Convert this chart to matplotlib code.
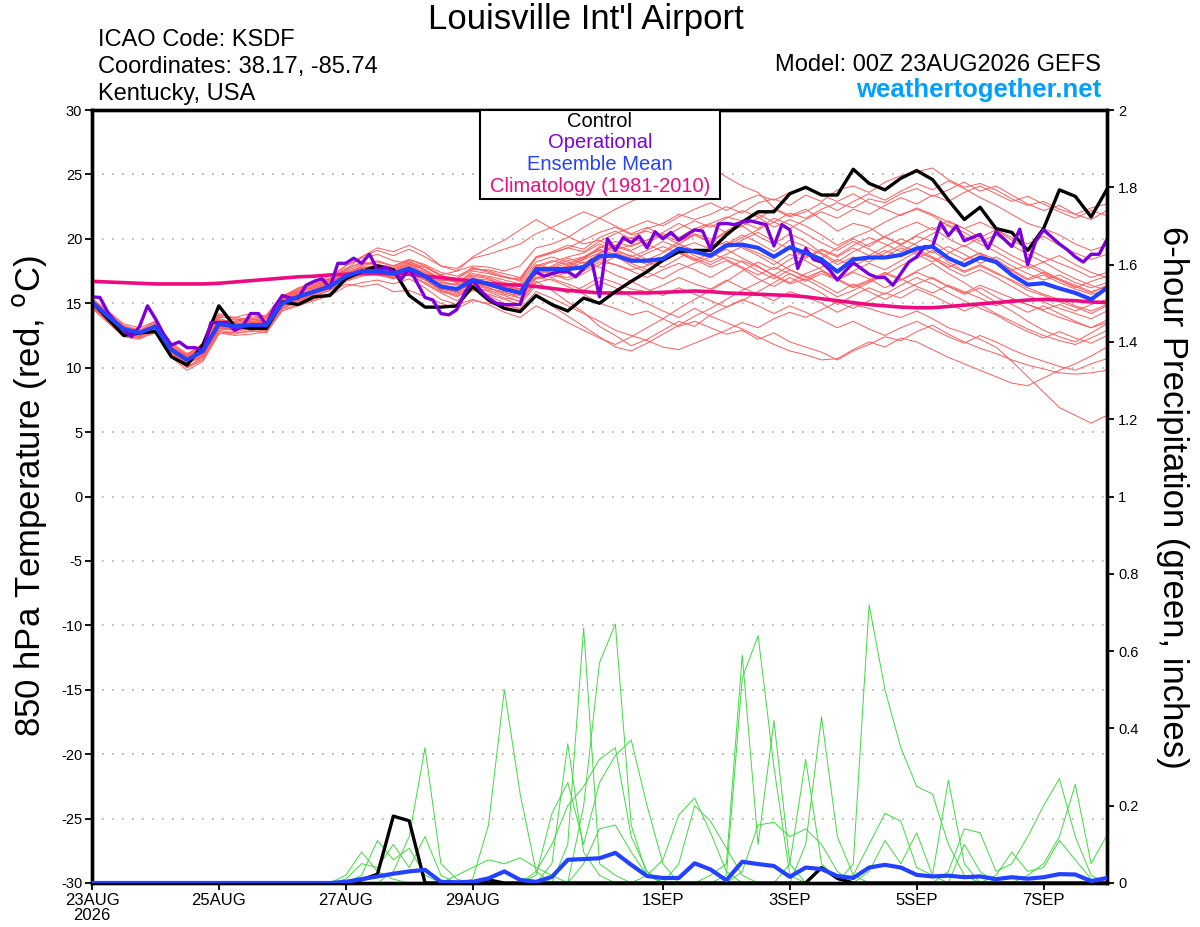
import numpy as np
import matplotlib
matplotlib.use('Agg')
import matplotlib.pyplot as plt
from matplotlib.patches import Rectangle

plt.rcParams['font.family'] = ['Liberation Sans', 'DejaVu Sans']

# ---------------- data ----------------
tick_hours = [0, 48, 96, 144, 216, 264, 312, 360]
tick_labels = ['23AUG\n2026', '25AUG', '27AUG', '29AUG', '1SEP', '3SEP', '5SEP', '7SEP']

# 6-hourly control 850 hPa temperature (C), h = 0..384
control_temp = [15.1, 13.8, 12.5, 12.7, 12.8, 10.85, 10.2, 11.8, 14.8, 13.2, 13.05, 13.05, 15.1,
                14.9, 15.5, 15.6, 16.9, 17.45, 17.9, 17.6, 15.6, 14.7, 14.7, 14.8, 16.3, 15.25,
                14.6, 14.35, 15.6, 14.9, 14.4, 15.4, 15.0, 15.9, 16.7, 17.45, 18.35, 19.0, 19.1,
                19.1, 20.3, 21.3, 22.1, 22.1, 23.5, 24.0, 23.4, 23.4, 25.4, 24.3, 23.8, 24.7,
                25.3, 24.6, 23.0, 21.5, 22.45, 20.8, 20.5, 19.1, 20.8, 23.8, 23.3, 21.7, 23.85]

ens_mean_temp = [15.1, 14.0, 13.0, 12.7, 13.2, 11.4, 10.6, 11.3, 13.4, 13.2, 13.3, 13.3, 15.0,
                 15.5, 15.9, 16.3, 17.1, 17.5, 17.5, 17.3, 17.7, 17.1, 16.3, 16.1, 16.8, 16.5,
                 16.1, 15.8, 17.65, 17.65, 17.65, 17.8, 18.65, 18.7, 18.3, 18.3, 18.45, 19.25, 19.0,
                 18.7, 19.5, 19.55, 19.3, 18.6, 19.35, 18.9, 18.4, 17.45, 18.4, 18.55, 18.55, 18.75,
                 19.25, 19.4, 18.5, 17.95, 18.55, 18.2, 17.2, 16.45, 16.55, 16.15, 15.8, 15.3, 16.2]

climo_temp = [16.7, 16.65, 16.6, 16.55, 16.5, 16.5, 16.5, 16.5, 16.55, 16.65, 16.75, 16.85, 16.95,
              17.05, 17.1, 17.2, 17.25, 17.3, 17.3, 17.3, 17.25, 17.1, 17.0, 16.85, 16.7, 16.55,
              16.45, 16.4, 16.3, 16.15, 16.0, 15.9, 15.8, 15.8, 15.8, 15.8, 15.85, 15.9, 15.95,
              15.9, 15.8, 15.75, 15.7, 15.65, 15.6, 15.5, 15.35, 15.2, 15.05, 14.9, 14.8, 14.7,
              14.65, 14.65, 14.75, 14.85, 14.95, 15.05, 15.15, 15.25, 15.3, 15.25, 15.2, 15.1, 15.05]

# 3-hourly operational, h = 0..384
oper_temp = [15.5, 15.45, 14.3, 13.5, 12.9, 12.4, 13.2, 14.8,
             13.8, 12.65, 11.75, 12.0, 11.55, 11.55, 11.3, 13.5,
             13.5, 13.5, 12.9, 13.2, 14.2, 14.2, 13.3, 14.7,
             15.6, 15.4, 15.4, 16.4, 16.7, 16.9, 16.2, 18.1,
             18.1, 18.5, 18.1, 18.8, 17.6, 17.8, 17.45, 16.85,
             17.7, 16.6, 15.45, 15.25, 14.2, 14.1, 14.5, 15.8,
             16.8, 16.0, 15.4, 15.0, 14.9, 14.9, 14.9, 16.8,
             17.45, 17.1, 17.3, 17.45, 17.45, 17.05, 17.7, 18.35,
             15.5, 20.0, 19.1, 20.1, 19.7, 20.2, 19.3, 20.55,
             20.0, 20.5, 19.9, 20.3, 20.7, 20.6, 19.2, 21.15,
             21.2, 21.1, 21.3, 21.4, 21.25, 21.1, 19.45, 21.1,
             20.7, 17.7, 19.25, 18.4, 18.2, 17.6, 16.8, 17.5,
             18.15, 17.7, 17.25, 17.0, 17.0, 16.4, 17.3, 18.2,
             18.6, 19.4, 19.4, 21.25, 20.25, 21.0, 19.85, 20.1,
             20.35, 19.25, 20.55, 20.0, 19.4, 20.75, 18.0, 19.8,
             20.7, 20.15, 19.6, 19.15, 18.6, 18.2, 18.8, 18.8,
             19.95]

# ensemble member temperatures (6-hourly)
m01 = [14.8, 13.6, 12.5, 12.3, 13.0, 11.0, 10.2, 11.6, 13.8, 13.5, 13.1, 13.6, 15.4,
       16.0, 16.4, 16.9, 17.6, 18.2, 18.0, 17.8, 18.3, 17.5, 16.8, 16.9, 17.8, 17.4,
       17.0, 16.9, 18.6, 19.0, 19.5, 19.2, 20.1, 20.6, 20.0, 20.8, 21.2, 21.9, 21.5,
       21.9, 22.5, 22.0, 22.8, 23.1, 22.6, 23.4, 22.9, 23.8, 24.1, 23.6, 24.4, 24.9,
       25.2, 25.5, 24.6, 24.0, 24.3, 23.8, 23.1, 22.6, 22.9, 22.3, 21.9, 21.5, 22.2]
m02 = [15.0, 13.9, 12.8, 12.4, 13.3, 11.2, 10.0, 10.9, 13.1, 12.9, 13.2, 13.0, 14.8,
       15.2, 15.6, 16.0, 16.8, 17.2, 17.4, 16.9, 17.2, 16.5, 15.8, 15.2, 16.0, 15.7,
       15.3, 14.9, 16.4, 16.2, 15.8, 16.3, 17.0, 16.6, 16.1, 15.9, 16.4, 17.0, 16.5,
       16.1, 16.8, 16.2, 15.7, 15.2, 15.9, 15.5, 15.0, 14.3, 14.9, 14.6, 14.2, 13.9,
       14.4, 13.8, 13.1, 12.7, 12.2, 11.6, 10.5, 9.3, 8.1, 6.9, 6.3, 5.7, 6.3]
m03 = [15.3, 14.2, 13.2, 12.9, 13.0, 11.6, 10.8, 11.1, 13.0, 13.6, 13.8, 13.5, 15.2,
       15.7, 16.1, 16.6, 17.3, 17.9, 18.2, 17.9, 18.4, 17.9, 17.2, 16.6, 17.1, 16.9,
       16.4, 15.9, 17.0, 16.8, 16.3, 15.7, 15.0, 14.6, 14.1, 14.4, 13.8, 13.2, 13.6,
       13.1, 12.6, 12.9, 12.2, 12.7, 12.0, 11.6, 11.2, 10.6, 11.3, 11.8, 12.4, 12.1,
       12.8, 13.3, 12.6, 12.0, 11.5, 11.1, 10.6, 10.2, 9.9, 9.6, 9.5, 9.6, 9.8]
m04 = [14.9, 13.8, 12.9, 12.9, 13.5, 11.8, 11.0, 11.8, 14.0, 13.7, 13.9, 14.1, 15.6,
       15.9, 16.2, 16.8, 17.6, 18.6, 19.3, 19.0, 19.5, 18.9, 17.9, 17.5, 17.9, 17.8,
       17.5, 17.9, 19.3, 19.6, 20.1, 20.9, 21.6, 22.3, 22.9, 23.4, 23.9, 24.6, 25.1,
       25.6, 24.8, 24.1, 23.6, 22.4, 21.8, 22.3, 21.5, 20.6, 21.2, 20.9, 20.1, 19.6,
       20.2, 19.8, 19.0, 18.4, 18.9, 18.1, 17.5, 16.8, 17.2, 16.6, 16.1, 15.7, 16.0]
m05 = [15.2, 14.1, 13.1, 12.6, 12.8, 11.1, 10.5, 10.8, 12.8, 12.6, 12.9, 12.7, 14.5,
       14.9, 15.3, 15.8, 16.5, 16.3, 16.5, 15.9, 16.0, 15.5, 15.0, 14.6, 15.2, 15.0,
       14.8, 14.6, 15.9, 15.4, 14.8, 14.2, 13.6, 12.9, 12.5, 12.1, 11.6, 11.4, 11.9,
       12.4, 12.9, 13.5, 13.1, 13.8, 14.3, 13.9, 14.5, 15.1, 14.6, 15.2, 15.8, 15.4,
       16.1, 15.6, 15.0, 14.4, 14.9, 14.2, 13.6, 13.0, 12.5, 12.1, 11.8, 12.3, 12.9]
m06 = [14.7, 13.7, 12.6, 12.5, 13.4, 11.5, 10.7, 11.5, 13.6, 13.4, 13.5, 13.6, 15.3,
       15.8, 16.3, 16.7, 17.4, 17.8, 17.9, 17.6, 18.0, 17.6, 16.9, 16.6, 17.2, 17.0,
       16.6, 16.3, 17.8, 18.2, 18.6, 18.9, 19.6, 19.2, 19.5, 19.9, 20.4, 20.1, 20.8,
       21.2, 21.7, 21.4, 21.9, 21.3, 22.0, 21.6, 22.3, 22.8, 22.4, 23.1, 22.8, 23.5,
       23.9, 23.3, 23.8, 24.4, 23.7, 24.1, 23.4, 22.7, 22.2, 22.6, 21.9, 22.4, 22.7]
m07 = [15.0, 14.0, 13.0, 12.8, 13.1, 11.3, 10.4, 11.2, 13.3, 13.1, 13.4, 13.4, 15.1,
       15.6, 16.0, 16.4, 17.0, 17.6, 17.6, 17.2, 17.5, 16.9, 16.1, 15.9, 16.6, 16.2,
       15.8, 15.6, 17.3, 17.0, 17.4, 18.0, 18.9, 19.5, 20.1, 19.6, 19.0, 19.8, 20.3,
       19.7, 20.5, 21.0, 20.2, 19.6, 20.4, 19.8, 18.9, 18.2, 19.0, 19.6, 20.2, 19.5,
       20.3, 20.9, 20.0, 19.4, 20.1, 20.7, 19.9, 19.2, 18.6, 18.1, 17.6, 17.0, 17.4]
m08 = [15.4, 14.4, 13.4, 13.1, 13.6, 11.9, 11.1, 11.7, 13.9, 13.9, 14.2, 13.9, 15.5,
       16.1, 16.7, 16.9, 17.9, 18.5, 18.8, 18.3, 18.1, 17.2, 16.2, 15.8, 16.3, 15.9,
       15.4, 15.2, 16.7, 16.0, 15.1, 14.3, 13.2, 12.5, 11.7, 12.2, 12.9, 13.6, 13.2,
       14.1, 14.7, 15.2, 15.9, 16.6, 17.3, 16.8, 17.5, 16.8, 17.4, 16.9, 16.2, 16.8,
       17.5, 18.1, 17.3, 16.6, 15.8, 15.1, 14.4, 13.6, 12.9, 12.4, 12.0, 12.7, 13.4]
m09 = [14.6, 13.5, 12.4, 12.2, 12.9, 10.8, 9.8, 10.5, 12.6, 12.8, 13.0, 13.2, 14.7,
       15.3, 15.8, 16.2, 17.0, 17.3, 17.2, 17.1, 17.6, 17.0, 16.5, 16.5, 17.5, 17.3,
       17.0, 16.8, 18.5, 18.9, 19.3, 19.9, 20.5, 20.9, 20.3, 20.6, 20.1, 20.8, 21.4,
       20.9, 21.6, 22.2, 21.7, 20.9, 21.5, 21.0, 20.3, 19.5, 20.1, 20.6, 21.3, 21.9,
       22.3, 21.8, 21.0, 20.2, 19.6, 19.0, 18.3, 17.7, 18.2, 17.5, 16.9, 16.4, 16.0]
m10 = [15.1, 14.1, 13.2, 12.6, 13.0, 11.4, 10.6, 11.0, 13.2, 13.0, 13.1, 13.0, 14.6,
       15.1, 15.5, 16.0, 16.7, 17.1, 17.3, 17.0, 17.2, 16.6, 15.9, 15.6, 16.2, 16.0,
       15.6, 15.1, 16.6, 16.9, 16.5, 16.0, 16.7, 16.2, 15.5, 15.0, 14.4, 13.9, 14.6,
       14.0, 13.5, 13.0, 12.4, 11.8, 11.3, 11.0, 10.6, 10.7, 11.4, 12.0, 11.6, 12.3,
       12.0, 11.4, 10.8, 10.3, 9.8, 9.3, 8.8, 8.6, 9.2, 9.8, 10.3, 10.9, 11.6]
m11 = [14.9, 13.8, 12.9, 12.8, 13.3, 11.4, 10.6, 11.3, 13.5, 13.2, 13.2, 13.3, 15.0,
       15.4, 15.9, 16.5, 17.2, 17.5, 17.4, 17.5, 17.9, 17.4, 16.7, 16.4, 17.0, 16.6,
       16.0, 15.7, 17.5, 17.8, 18.3, 18.6, 19.1, 18.7, 17.9, 17.4, 16.9, 17.6, 18.1,
       18.6, 19.2, 18.5, 17.9, 17.1, 16.5, 16.9, 16.2, 15.5, 16.0, 16.6, 17.2, 17.9,
       18.5, 19.1, 18.2, 17.5, 18.0, 17.4, 16.7, 16.0, 15.6, 15.1, 14.7, 14.2, 14.8]
m12 = [15.3, 14.2, 13.0, 12.7, 13.4, 11.7, 11.0, 11.9, 14.2, 13.8, 13.6, 13.7, 15.4,
       15.9, 16.4, 16.8, 17.3, 17.7, 17.9, 17.6, 18.0, 17.8, 17.2, 17.5, 18.6, 19.3,
       19.9, 20.7, 21.5, 20.8, 20.2, 19.6, 19.9, 19.2, 18.6, 19.1, 19.8, 19.3, 18.7,
       18.2, 18.8, 19.4, 18.9, 18.3, 17.6, 17.0, 17.5, 16.9, 16.3, 16.8, 17.4, 16.9,
       16.3, 15.8, 16.4, 15.9, 15.4, 14.8, 15.3, 14.9, 14.4, 13.9, 13.5, 13.1, 13.7]
m13 = [15.0, 13.9, 12.7, 12.5, 13.2, 11.2, 10.3, 11.0, 13.1, 13.0, 13.3, 13.2, 14.9,
       15.5, 15.8, 16.1, 16.9, 17.4, 17.6, 17.4, 17.6, 17.1, 16.4, 16.0, 16.5, 16.4,
       16.2, 16.0, 17.4, 17.9, 18.5, 18.1, 18.8, 19.4, 19.0, 18.4, 18.9, 19.6, 19.1,
       18.5, 19.3, 19.9, 20.5, 19.8, 19.2, 18.6, 19.2, 18.7, 19.5, 20.1, 19.6, 19.0,
       19.7, 20.4, 21.1, 20.5, 19.8, 20.3, 19.5, 18.8, 18.2, 18.7, 18.0, 17.4, 17.0]
m14 = [14.8, 13.7, 12.7, 12.9, 13.6, 11.6, 10.9, 11.6, 13.7, 13.3, 13.4, 13.5, 15.2,
       15.7, 16.1, 16.5, 17.2, 17.6, 17.7, 17.5, 17.8, 17.3, 16.6, 16.4, 16.9, 16.8,
       16.5, 16.1, 17.9, 18.3, 18.0, 18.6, 19.3, 19.8, 19.4, 19.9, 20.5, 21.2, 20.6,
       21.1, 20.5, 21.0, 21.6, 22.3, 21.7, 22.1, 22.8, 22.2, 22.9, 23.5, 23.0, 23.7,
       24.3, 23.8, 24.5, 23.9, 23.2, 22.6, 21.9, 21.2, 20.8, 20.3, 19.6, 19.1, 19.5]
m15 = [15.2, 14.0, 12.9, 12.5, 12.9, 11.0, 10.1, 10.7, 12.9, 12.7, 12.8, 12.9, 14.6,
       15.2, 15.7, 16.1, 16.9, 17.3, 17.2, 16.9, 17.3, 16.8, 16.0, 15.7, 16.4, 16.1,
       15.9, 15.4, 16.9, 17.2, 17.0, 17.5, 18.2, 18.0, 17.6, 17.9, 18.4, 19.0, 18.5,
       18.0, 18.6, 18.2, 17.5, 16.9, 17.6, 17.1, 16.5, 15.8, 16.5, 15.9, 15.3, 15.9,
       16.5, 17.0, 16.3, 15.7, 16.2, 15.5, 14.9, 14.3, 14.8, 14.2, 13.6, 13.1, 13.5]
m16 = [15.1, 14.1, 13.1, 12.8, 13.2, 11.5, 10.7, 11.4, 13.5, 13.3, 13.3, 13.2, 14.9,
       15.3, 15.8, 16.2, 17.0, 17.4, 17.3, 17.1, 17.5, 16.9, 16.0, 15.5, 16.1, 15.6,
       15.0, 14.5, 15.6, 14.8, 14.0, 13.2, 12.4, 11.6, 11.3, 11.9, 12.6, 13.3, 14.0,
       14.6, 15.3, 16.0, 16.6, 17.2, 16.6, 17.3, 17.8, 18.4, 17.9, 18.5, 19.1, 18.6,
       19.2, 18.6, 18.0, 17.4, 17.9, 17.3, 16.8, 16.2, 15.7, 15.3, 14.8, 14.4, 14.9]
m17 = [14.7, 13.6, 12.6, 12.4, 13.1, 11.3, 10.6, 11.5, 13.7, 13.6, 13.8, 14.0, 15.6,
       16.1, 16.5, 16.9, 17.7, 18.1, 18.0, 17.7, 18.2, 17.8, 17.1, 16.9, 17.6, 17.6,
       17.3, 17.0, 18.6, 18.9, 19.3, 19.0, 19.8, 20.4, 20.9, 21.4, 21.0, 21.7, 22.3,
       22.8, 22.2, 22.9, 23.4, 23.0, 23.6, 24.0, 23.4, 22.9, 23.5, 22.8, 22.3, 21.8,
       22.4, 21.9, 21.3, 20.8, 21.3, 20.7, 20.1, 19.6, 20.2, 19.5, 18.9, 18.4, 18.8]
m18 = [15.3, 14.3, 13.3, 12.9, 13.3, 11.6, 10.9, 11.5, 13.4, 13.4, 13.6, 13.4, 15.1,
       15.6, 16.0, 16.4, 17.2, 17.8, 17.6, 17.3, 17.7, 17.2, 16.4, 16.2, 16.9, 16.6,
       16.3, 16.1, 17.6, 17.3, 16.8, 17.3, 18.0, 18.6, 18.1, 17.6, 18.2, 18.9, 18.4,
       17.8, 18.3, 17.7, 16.9, 16.3, 17.0, 16.4, 15.8, 14.9, 15.6, 16.2, 15.7, 16.4,
       17.0, 16.5, 15.8, 15.2, 14.6, 14.1, 13.4, 12.8, 12.3, 12.8, 12.3, 11.9, 12.5]
m19 = [14.9, 13.9, 12.8, 12.6, 13.0, 11.2, 10.4, 11.1, 13.2, 13.1, 13.4, 13.5, 15.2,
       15.6, 16.0, 16.3, 17.1, 17.5, 17.5, 17.2, 17.5, 17.0, 16.2, 16.1, 16.7, 16.3,
       16.1, 15.8, 17.7, 17.5, 17.8, 18.4, 19.4, 19.0, 18.7, 18.2, 17.8, 18.5, 19.2,
       18.8, 19.6, 20.3, 19.7, 19.0, 19.9, 19.4, 18.8, 18.0, 18.6, 18.2, 18.9, 19.5,
       19.0, 18.5, 17.8, 18.3, 18.9, 18.4, 17.6, 16.9, 17.4, 16.8, 16.3, 15.8, 16.4]
m20 = [15.0, 14.0, 13.1, 12.7, 13.2, 11.4, 10.5, 11.2, 13.3, 13.1, 13.2, 13.4, 15.0,
       15.5, 15.9, 16.3, 17.0, 17.4, 17.5, 17.4, 17.8, 17.2, 16.4, 16.0, 16.8, 16.5,
       16.2, 15.9, 17.7, 17.4, 17.9, 17.6, 18.4, 18.9, 18.5, 18.0, 18.6, 19.3, 19.7,
       19.2, 19.8, 19.3, 18.7, 18.0, 18.8, 18.3, 17.6, 16.9, 17.5, 18.1, 17.6, 18.3,
       19.0, 18.5, 17.7, 17.1, 17.6, 17.0, 16.3, 15.6, 15.1, 14.6, 14.2, 13.8, 14.4]
m21 = [15.2, 14.0, 12.9, 12.6, 13.4, 11.5, 10.9, 11.8, 14.1, 13.9, 13.7, 13.9, 15.5,
       16.2, 16.6, 17.1, 17.9, 18.6, 19.1, 18.7, 19.2, 18.6, 17.9, 17.7, 18.5, 18.8,
       19.2, 19.6, 20.4, 20.9, 21.5, 22.1, 21.6, 21.0, 20.4, 20.9, 20.2, 19.6, 20.3,
       19.8, 20.6, 21.3, 20.8, 21.6, 21.1, 20.4, 19.7, 19.1, 19.8, 19.2, 18.6, 19.3,
       18.8, 18.2, 18.9, 19.5, 18.8, 18.2, 17.6, 17.9, 17.3, 16.8, 16.2, 16.7, 17.1]
m22 = [14.8, 13.7, 12.6, 12.3, 12.7, 10.9, 10.0, 10.6, 12.7, 12.5, 12.6, 12.8, 14.4,
       14.8, 15.2, 15.6, 16.3, 16.6, 16.8, 16.5, 16.9, 16.2, 15.3, 14.9, 15.3, 14.9,
       14.3, 13.9, 14.8, 14.2, 13.5, 12.9, 12.3, 11.8, 12.4, 13.1, 13.8, 14.6, 15.3,
       16.0, 16.7, 17.5, 18.2, 17.6, 18.4, 19.1, 18.5, 19.3, 20.0, 19.4, 20.2, 20.8,
       21.3, 20.7, 21.4, 20.8, 20.1, 19.4, 18.7, 18.1, 17.5, 16.9, 16.4, 15.9, 16.3]
m23 = [15.1, 13.9, 12.8, 12.6, 13.3, 11.6, 10.8, 11.4, 13.6, 13.5, 13.7, 13.8, 15.3,
       15.9, 16.2, 16.6, 17.5, 18.0, 18.3, 17.9, 18.4, 18.0, 17.4, 17.1, 17.7, 17.5,
       17.1, 16.7, 18.2, 18.6, 18.2, 17.7, 18.4, 18.0, 17.5, 17.0, 17.6, 18.1, 17.6,
       17.0, 17.7, 18.3, 17.8, 17.2, 17.9, 18.5, 19.1, 18.6, 19.3, 18.7, 19.4, 20.0,
       19.5, 18.9, 19.4, 18.8, 18.1, 18.6, 17.9, 17.3, 16.8, 17.2, 16.6, 16.2, 16.6]
m24 = [15.0, 13.8, 12.7, 12.7, 13.1, 11.3, 10.5, 11.3, 13.4, 13.2, 13.3, 13.1, 14.8,
       15.3, 15.7, 16.2, 17.0, 17.3, 17.4, 17.2, 17.6, 16.9, 16.1, 15.9, 16.5, 16.2,
       15.7, 15.4, 17.0, 17.3, 17.7, 18.2, 17.8, 17.2, 16.7, 16.1, 15.6, 16.2, 15.7,
       15.2, 14.7, 15.3, 14.8, 14.2, 14.8, 14.3, 13.7, 13.1, 13.6, 13.0, 12.5, 13.1,
       13.6, 13.0, 12.4, 11.9, 12.5, 12.0, 11.4, 10.9, 10.5, 10.1, 9.8, 10.3, 10.7]
m25 = [14.9, 13.8, 12.8, 12.5, 13.0, 11.2, 10.3, 10.9, 13.0, 12.9, 13.1, 13.3, 14.9,
       15.4, 15.9, 16.4, 17.2, 17.5, 17.3, 17.0, 17.4, 16.8, 16.1, 15.9, 16.6, 16.4,
       16.0, 15.7, 17.2, 17.6, 17.9, 18.4, 18.9, 19.5, 19.1, 19.7, 20.3, 19.8, 20.4,
       20.0, 19.5, 20.1, 20.7, 21.3, 20.8, 21.5, 22.1, 21.6, 22.3, 21.9, 22.6, 23.2,
       22.7, 23.4, 22.9, 23.6, 24.1, 23.5, 22.9, 23.3, 22.7, 22.1, 21.6, 22.2, 21.8]
m26 = [15.2, 14.1, 13.0, 12.8, 13.3, 11.5, 10.7, 11.5, 13.6, 13.3, 13.5, 13.5, 15.2,
       15.7, 16.0, 16.5, 17.3, 17.7, 17.8, 17.6, 18.1, 17.6, 16.8, 16.7, 17.3, 17.1,
       16.8, 16.5, 18.0, 17.7, 18.1, 18.5, 19.2, 18.8, 18.3, 18.9, 19.4, 18.9, 18.3,
       18.9, 18.4, 17.8, 17.2, 17.8, 17.3, 16.7, 17.3, 16.8, 16.2, 16.7, 17.3, 16.8,
       17.4, 16.9, 16.3, 15.8, 16.4, 15.9, 15.4, 14.9, 14.5, 14.9, 14.4, 14.9, 15.3]
member_temps = [m01, m02, m03, m04, m05, m06, m07, m08, m09, m10, m11, m12, m13,
                m14, m15, m16, m17, m18, m19, m20, m21, m22, m23, m24, m25, m26]

# 6-hourly precipitation (inches)
control_precip = {102: 0.008, 108: 0.023, 114: 0.173, 120: 0.161, 150: 0.008,
                  276: 0.04, 282: 0.012}
ens_mean_precip = [0, 0, 0, 0, 0, 0, 0, 0, 0, 0, 0, 0, 0, 0, 0,
                   0.0, 0.003, 0.01, 0.017, 0.024, 0.03, 0.034, 0.003, 0.002, 0.003,
                   0.012, 0.03, 0.008, 0.003, 0.016, 0.06, 0.062, 0.064, 0.078, 0.047,
                   0.018, 0.013, 0.013, 0.051, 0.035, 0.007, 0.055, 0.049, 0.044, 0.016,
                   0.04, 0.036, 0.018, 0.013, 0.04, 0.047, 0.04, 0.021, 0.017, 0.019,
                   0.015, 0.017, 0.01, 0.015, 0.011, 0.015, 0.023, 0.022, 0.005, 0.013]
member_precip = [
    {96: 0.02, 102: 0.08, 108: 0.03, 114: 0.01},
    {102: 0.02, 108: 0.11, 114: 0.06, 120: 0.09, 126: 0.02},
    {114: 0.03, 120: 0.12, 126: 0.35, 132: 0.05, 138: 0.01},
    {96: 0.01, 102: 0.05, 108: 0.04, 114: 0.1, 120: 0.04, 126: 0.12, 132: 0.02},
    {144: 0.01, 150: 0.15, 156: 0.50, 162: 0.23, 168: 0.03},
    {138: 0.02, 144: 0.04, 150: 0.06, 156: 0.05, 162: 0.065, 168: 0.04, 174: 0.02},
    {174: 0.05, 180: 0.36, 186: 0.08, 192: 0.02},
    {180: 0.10, 186: 0.66, 192: 0.05, 198: 0.02},
    {186: 0.2, 192: 0.57, 198: 0.67, 204: 0.15, 210: 0.02},
    {168: 0.02, 174: 0.18, 180: 0.26, 186: 0.10, 192: 0.26, 198: 0.33, 204: 0.37, 210: 0.2, 216: 0.05},
    {168: 0.03, 174: 0.1, 180: 0.2, 186: 0.25, 192: 0.32, 198: 0.35, 204: 0.12, 210: 0.03},
    {186: 0.05, 192: 0.14, 198: 0.15, 204: 0.08, 210: 0.02},
    {210: 0.02, 216: 0.06, 222: 0.176, 228: 0.22, 234: 0.13, 240: 0.03},
    {222: 0.05, 228: 0.20, 234: 0.16, 240: 0.09, 246: 0.02},
    {234: 0.02, 240: 0.05, 246: 0.59, 252: 0.1, 258: 0.42, 264: 0.05},
    {240: 0.02, 246: 0.53, 252: 0.64, 258: 0.3, 264: 0.02},
    {246: 0.03, 252: 0.15, 258: 0.157, 264: 0.12, 270: 0.14, 276: 0.1, 282: 0.03},
    {264: 0.05, 270: 0.32, 276: 0.05, 282: 0.01},
    {270: 0.1, 276: 0.43, 282: 0.12, 288: 0.02},
    {288: 0.05, 294: 0.72, 300: 0.5, 306: 0.35, 312: 0.25, 318: 0.23, 324: 0.1, 330: 0.02},
    {288: 0.02, 294: 0.1, 300: 0.18, 306: 0.16, 312: 0.04, 318: 0.02, 324: 0.266, 330: 0.05},
    {294: 0.03, 300: 0.11, 306: 0.05, 312: 0.13, 318: 0.02, 330: 0.1, 336: 0.03},
    {324: 0.03, 330: 0.14, 336: 0.13, 342: 0.03, 348: 0.05, 354: 0.12, 360: 0.2, 366: 0.27, 372: 0.12, 378: 0.02},
    {354: 0.02, 360: 0.05, 366: 0.12, 372: 0.255, 378: 0.05, 384: 0.124},
    {342: 0.02, 348: 0.08, 354: 0.03, 360: 0.04, 366: 0.11, 372: 0.06, 378: 0.01},
]

# ---------------- plot ----------------
W, H = 1200, 927
fig = plt.figure(figsize=(W / 100, H / 100), dpi=100)
L, R, T, B = 92, 1107, 110, 883
ax = fig.add_axes([L / W, 1 - B / H, (R - L) / W, (B - T) / H])
ax2 = ax.twinx()

h6 = np.arange(len(control_temp)) * 6
h3 = np.arange(len(oper_temp)) * 3

def full_series(d):
    return [d.get(int(h), 0.0) for h in h6]

red = '#ff5a5a'
green = '#3cdc3c'
purple = '#7d00dc'
blue = '#2342ff'
pink = '#ee0a80'

for m in member_temps:
    ax.plot(np.arange(len(m)) * 6, m, color=red, lw=0.7, zorder=2)
ax.plot(h6, climo_temp, color=pink, lw=2.6, zorder=3)
ax.plot(h6, control_temp, color='black', lw=2.4, zorder=4)
ax.plot(h3, oper_temp, color=purple, lw=2.4, zorder=5)
ax.plot(h6, ens_mean_temp, color=blue, lw=3.0, zorder=6)

for d in member_precip:
    ax2.plot(h6, full_series(d), color=green, lw=0.7, zorder=2)
ax2.plot(h6, full_series(control_precip), color='black', lw=2.4, zorder=4)
ax2.plot(h6, ens_mean_precip, color=blue, lw=3.0, zorder=6)

ax.set_xlim(0, 384)
ax.set_ylim(-30, 30)
ax2.set_ylim(0, 2)

yt = list(range(-30, 31, 5))
ax.set_yticks(yt)
ax.set_yticklabels([str(v) for v in yt], fontsize=10.5)
ax.yaxis.grid(True, color='#b0b0b0', linestyle=(0, (1, 5)), lw=1.2)
ax.set_axisbelow(True)

pt = [i * 0.2 for i in range(11)]
ax2.set_yticks(pt)
ax2.set_yticklabels(['0', '0.2', '0.4', '0.6', '0.8', '1', '1.2', '1.4', '1.6', '1.8', '2'], fontsize=10.5)

ax.set_xticks(tick_hours)
ax.set_xticklabels(tick_labels, fontsize=12, linespacing=1.0)

for a in (ax, ax2):
    for s in a.spines.values():
        s.set_linewidth(2.4)
ax.tick_params(axis='both', direction='out', length=5, width=1.3, pad=2)
ax2.tick_params(axis='y', direction='out', length=5, width=1.3, pad=3)

# header texts
fig.text(586 / W, 1 - 29 / H, "Louisville Int'l Airport", ha='center', va='baseline', fontsize=25)
fig.text(98 / W, 1 - 46 / H, 'ICAO Code: KSDF', ha='left', va='baseline', fontsize=17)
fig.text(98 / W, 1 - 73 / H, 'Coordinates: 38.17, -85.74', ha='left', va='baseline', fontsize=17)
fig.text(98 / W, 1 - 100 / H, 'Kentucky, USA', ha='left', va='baseline', fontsize=17)
fig.text(1101 / W, 1 - 71 / H, 'Model: 00Z 23AUG2026 GEFS', ha='right', va='baseline', fontsize=17)
fig.text(1101 / W, 1 - 97 / H, 'weathertogether.net', ha='right', va='baseline', fontsize=18.5,
         fontweight='bold', color='#00a0ff')

# axis labels
fig.text(30 / W, 1 - 496 / H, '850 hPa Temperature (red, $^{\\mathrm{o}}$C)', rotation=90,
         ha='center', va='center', fontsize=25)
fig.text(1172 / W, 1 - 497 / H, '6-hour Precipitation (green, inches)', rotation=-90,
         ha='center', va='center', fontsize=25)

# legend box
box = Rectangle((480 / W, 1 - 199 / H), 240 / W, 89 / H, transform=fig.transFigure,
                facecolor='white', edgecolor='black', lw=1.5, zorder=10)
fig.patches.append(box)
leg = [('Control', 'black', 127), ('Operational', purple, 148),
       ('Ensemble Mean', blue, 170), ('Climatology (1981-2010)', pink, 192)]
for txt, col, yb in leg:
    fig.text(600 / W, 1 - yb / H, txt, color=col, ha='center', va='baseline', fontsize=14.5, zorder=11)

fig.savefig('out.png', dpi=100)
